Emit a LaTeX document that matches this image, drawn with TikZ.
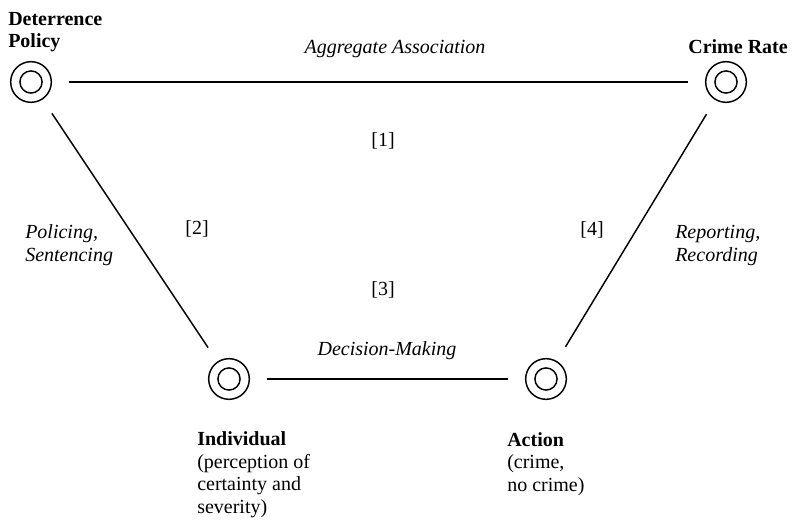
\documentclass[tikz,border=0pt]{standalone}
\usepackage{fontspec}
\setmainfont{Liberation Serif}
\begin{document}
\begin{tikzpicture}[x=0.75pt,y=-0.75pt,
  target/.style={circle, draw, line width=1.1pt, minimum size=30.5pt, inner sep=0pt, outer sep=13pt,
    path picture={\draw[line width=1.1pt] (path picture bounding box.center) circle (8.3pt);}},
  conn/.style={line width=1.1pt},
  lbl/.style={inner sep=0pt, font=\fontsize{15}{16.8}\selectfont},
  blbl/.style={lbl, font=\fontsize{15}{17}\selectfont\bfseries},
  ilbl/.style={lbl, font=\fontsize{15}{17.5}\selectfont\itshape}]
\useasboundingbox (0,0) rectangle (793,524);
% nodes
\node[target] (dp) at (31,82) {};
\node[target] (cr) at (726,82) {};
\node[target] (ind) at (229,379) {};
\node[target] (act) at (546,379) {};
% connectors
\draw[conn] (dp) -- (cr);
\draw[conn] (dp) -- (ind);
\draw[conn] (ind) -- (act);
\draw[conn] (act) -- (cr);
% labels
\node[blbl, anchor=base west, align=left] (tdp) at (8,48) {Deterrence\\Policy};
\node[blbl, anchor=base east] (tcr) at (788,54) {Crime Rate};
\node[ilbl, anchor=base] (tagg) at (395,54) {Aggregate Association};
\node[lbl] (n1) at (383,141) {[1]};
\node[lbl] (n2) at (197,229) {[2]};
\node[lbl] (n3) at (383,290) {[3]};
\node[lbl] (n4) at (592,230) {[4]};
\node[ilbl, anchor=base west, align=left] (tpol) at (25,262) {Policing,\\Sentencing};
\node[ilbl, anchor=base west, align=left] (trep) at (675,262) {Reporting,\\Recording};
\node[ilbl, anchor=base] (tdec) at (387,355) {Decision-Making};
\node[lbl, anchor=base west, align=left] (tind) at (197,513) {\textbf{Individual}\\(perception of\\certainty and\\severity)};
\node[lbl, anchor=base west, align=left] (tact) at (507,491) {\textbf{Action}\\(crime,\\no crime)};
\end{tikzpicture}
\end{document}
